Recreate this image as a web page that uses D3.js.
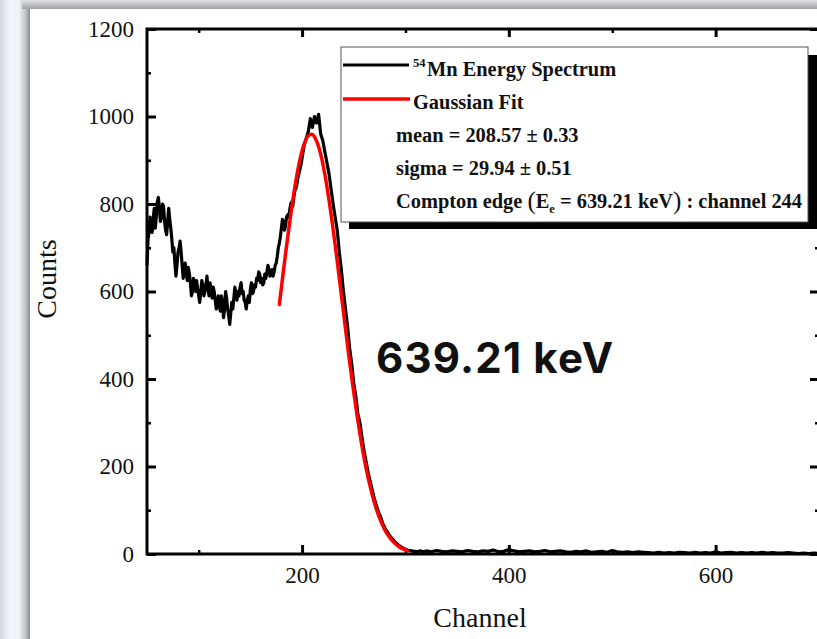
<!DOCTYPE html>
<html><head><meta charset="utf-8">
<script src="https://cdn.jsdelivr.net/npm/d3@7"></script>
<style>html,body{margin:0;padding:0;background:#fff;overflow:hidden}</style>
</head><body>
<svg id="c" width="817" height="639"></svg>
<script>
// ---- data ----
// spectrum counts, even channels 50..320
const evenChannels = d3.range(50, 321, 2);
const evenCounts = [
 660,735,750,765,745,805,790,770,795,740,
 760,765,720,700,635,690,715,660,650,640,
 655,620,600,615,625,590,600,615,600,635,
 590,600,610,580,575,565,590,540,600,560,
 525,575,585,595,600,610,595,580,560,590,
 605,595,615,630,645,620,615,640,645,650,
 640,635,660,680,710,745,760,750,775,785,
 805,815,835,860,880,905,935,950,965,995,
 975,1000,985,1005,960,945,920,895,870,835,
 800,770,740,690,650,600,560,520,470,435,
 390,360,320,300,265,235,210,185,165,145,
 125,110,95,85,70,60,52,45,38,33,
 27,23,19,16,13,11,9,8,7,6,
 6,5,7,6,5,7
];
// spectrum counts, odd channels 51..199
const oddChannels = d3.range(51, 200, 2);
const oddCounts = [
 720,770,735,790,770,815,760,800,760,730,
 790,745,690,665,660,700,690,630,665,625,
 640,590,630,600,605,575,625,590,615,605,
 620,585,600,560,590,555,575,560,585,545,
 550,560,610,580,590,620,600,575,580,575,
 620,600,610,625,640,630,620,630,660,635,
 650,645,665,700,725,765,740,770,770,800,
 795,830,845,870,890
];
// tail of the spectrum, channels 325..700 every 5 channels
const tailChannels = d3.range(325, 701, 5);
const tailCounts = [
 5,8,6,5,7,6,5,8,6,5,
 7,6,9,5,6,10,7,5,6,7,
 5,6,8,5,6,7,5,4,6,5,
 7,4,5,6,4,8,5,4,5,3,
 5,4,3,2,4,2,3,2,4,3,
 2,4,2,3,2,5,2,3,4,2,
 3,2,3,2,4,2,3,2,2,3,
 2,1,2,1,2,1
];
// Gaussian fit curve, channels 178..302 every 4
const fitChannels = d3.range(178, 303, 4);
const fitCounts = [570,648,723,792,853,902,937,956,959,944,914,868,810,743,669,592,515,439,369,304,246,195,153,117,88,65,47,34,24,16,11,7];

const xMajorTicks = [200,400,600];
const xMinorTicks = [100,300,500,700];
const yMajorTicks = [0,200,400,600,800,1000,1200];
const yMinorTicks = [100,300,500,700,900,1100];

const legendSeries = ["Mn Energy Spectrum","Gaussian Fit"];
const fitStats = ["mean = 208.57 \u00b1 0.33","sigma = 29.94 \u00b1 0.51"];
const comptonLabel = {pre:"Compton edge ", E:"E", sub:"e", mid:" = 639.21 keV", post:" : channel 244"};
const bigLabel = "639.21 keV";

// ---- drawing ----
const svg = d3.select("#c");
const defs = svg.append("defs");
const gl = defs.append("linearGradient").attr("id","gl").attr("x1",0).attr("x2",1).attr("y1",0).attr("y2",0);
[["0%","#d6d7dd"],["30%","#f2f3f8"],["62%","#f2f3f8"],["85%","#c3c4ca"],["100%","#8c8d92"]].forEach(s=>gl.append("stop").attr("offset",s[0]).attr("stop-color",s[1]));
const gt = defs.append("linearGradient").attr("id","gt").attr("x1",0).attr("x2",0).attr("y1",0).attr("y2",1);
[["0%","#e2e2e6"],["100%","#a2a2a6"]].forEach(s=>gt.append("stop").attr("offset",s[0]).attr("stop-color",s[1]));

svg.append("rect").attr("width",817).attr("height",639).attr("fill","#eceef3");
svg.append("rect").attr("x",0).attr("y",0).attr("width",30).attr("height",639).attr("fill","url(#gl)");
svg.append("rect").attr("x",22).attr("y",0).attr("width",795).attr("height",9).attr("fill","url(#gt)");
svg.append("rect").attr("x",30).attr("y",9).attr("width",787).attr("height",630).attr("fill","#fff");

const L=147, R=819, T=29, B=554;
const x = d3.scaleLinear().domain([50,700]).range([L,R]);
const y = d3.scaleLinear().domain([0,1200]).range([B,T]);

const serif = "'Liberation Serif','Times New Roman',serif";
function styleAxis(g, w){
  g.select(".domain").remove();
  g.selectAll(".tick line").attr("stroke","#000").attr("stroke-width",w);
  g.selectAll(".tick text").attr("font-family",serif).attr("font-size",23).attr("fill","#111");
}
// left
svg.append("g").attr("transform",`translate(${L},0)`)
  .call(d3.axisLeft(y).tickValues(yMajorTicks).tickSizeInner(-9).tickSizeOuter(0).tickPadding(13).tickFormat(d3.format("d")))
  .call(g=>styleAxis(g,3));
svg.append("g").attr("transform",`translate(${L},0)`)
  .call(d3.axisLeft(y).tickValues(yMinorTicks).tickSizeInner(-4).tickSizeOuter(0).tickFormat(""))
  .call(g=>styleAxis(g,2.5));
// right
svg.append("g").attr("transform",`translate(${R},0)`)
  .call(d3.axisRight(y).tickValues(yMajorTicks).tickSizeInner(-9).tickSizeOuter(0).tickFormat(""))
  .call(g=>styleAxis(g,3));
svg.append("g").attr("transform",`translate(${R},0)`)
  .call(d3.axisRight(y).tickValues(yMinorTicks).tickSizeInner(-4).tickSizeOuter(0).tickFormat(""))
  .call(g=>styleAxis(g,2.5));
// bottom
svg.append("g").attr("transform",`translate(0,${B})`)
  .call(d3.axisBottom(x).tickValues(xMajorTicks).tickSizeInner(-9).tickSizeOuter(0).tickPadding(13).tickFormat(d3.format("d")))
  .call(g=>styleAxis(g,3));
svg.append("g").attr("transform",`translate(0,${B})`)
  .call(d3.axisBottom(x).tickValues(xMinorTicks).tickSizeInner(-4).tickSizeOuter(0).tickFormat(""))
  .call(g=>styleAxis(g,2.5));
// top
svg.append("g").attr("transform",`translate(0,${T})`)
  .call(d3.axisTop(x).tickValues(xMajorTicks).tickSizeInner(-8).tickSizeOuter(0).tickFormat(""))
  .call(g=>styleAxis(g,3));
svg.append("g").attr("transform",`translate(0,${T})`)
  .call(d3.axisTop(x).tickValues(xMinorTicks).tickSizeInner(-4).tickSizeOuter(0).tickFormat(""))
  .call(g=>styleAxis(g,2.5));

// frame
svg.append("rect").attr("x",L).attr("y",T).attr("width",R-L).attr("height",B-T)
  .attr("fill","none").attr("stroke","#000").attr("stroke-width",3);

// spectrum
const spectrum = evenChannels.map((c,i)=>[c,evenCounts[i]])
  .concat(oddChannels.map((c,i)=>[c,oddCounts[i]]))
  .concat(tailChannels.map((c,i)=>[c,tailCounts[i]]))
  .sort((a,b)=>a[0]-b[0]);
const line = d3.line().x(d=>x(d[0])).y(d=>y(d[1]));
svg.append("path").datum(spectrum).attr("d",line).attr("fill","none")
  .attr("stroke","#000").attr("stroke-width",3.2).attr("stroke-linejoin","round");
// fit
const fit = fitChannels.map((c,i)=>[c,fitCounts[i]]);
svg.append("path").datum(fit).attr("d",d3.line().x(d=>x(d[0])).y(d=>y(d[1])).curve(d3.curveCatmullRom))
  .attr("fill","none").attr("stroke","#ff0000").attr("stroke-width",3.5).attr("stroke-linecap","round");

// axis titles
svg.append("text").attr("x",480).attr("y",627).attr("text-anchor","middle")
  .attr("font-family",serif).attr("font-size",28).attr("fill","#111").text("Channel");
svg.append("text").attr("transform","translate(56,279) rotate(-90)").attr("text-anchor","middle")
  .attr("font-family",serif).attr("font-size",28).attr("fill","#111").text("Counts");

// legend
const lg = svg.append("g").attr("font-family",serif).attr("font-weight","bold").attr("fill","#111");
lg.append("rect").attr("x",349).attr("y",55).attr("width",470).attr("height",174).attr("fill","#000");
lg.append("rect").attr("x",341).attr("y",47).attr("width",467).attr("height",175).attr("fill","#fff")
  .attr("stroke","#555").attr("stroke-width",1);
lg.append("line").attr("x1",343).attr("x2",409).attr("y1",65).attr("y2",65).attr("stroke","#000").attr("stroke-width",3);
lg.append("line").attr("x1",343).attr("x2",410).attr("y1",99).attr("y2",99).attr("stroke","#ff0000").attr("stroke-width",3.5);
lg.append("text").attr("x",413).attr("y",67).attr("font-size",12.5).text("54");
lg.append("text").attr("x",427).attr("y",76).attr("font-size",20.4).text(legendSeries[0]);
lg.append("text").attr("x",413).attr("y",109).attr("font-size",20.4).text(legendSeries[1]);
lg.append("text").attr("x",396).attr("y",142).attr("font-size",20.4).text(fitStats[0]);
lg.append("text").attr("x",396).attr("y",175).attr("font-size",20.4).text(fitStats[1]);
const ct = lg.append("text").attr("x",396).attr("y",208).attr("font-size",20.4);
ct.append("tspan").text(comptonLabel.pre);
ct.append("tspan").attr("font-size",25).attr("font-weight","normal").attr("dy",1).text("(");
ct.append("tspan").attr("dy",-1).text(comptonLabel.E);
ct.append("tspan").attr("font-size",12.5).attr("dy",5).text(comptonLabel.sub);
ct.append("tspan").attr("dy",-5).text(comptonLabel.mid);
ct.append("tspan").attr("font-size",25).attr("font-weight","normal").attr("dy",1).text(")");
ct.append("tspan").attr("dy",-1).text(comptonLabel.post);

// big annotation
svg.append("text").attr("x",376).attr("y",373).attr("font-family","Inter, 'Open Sans', sans-serif")
  .attr("font-weight",700).attr("font-size",42).attr("letter-spacing",1.2).attr("fill","#111").text(bigLabel);
</script>
</body></html>
